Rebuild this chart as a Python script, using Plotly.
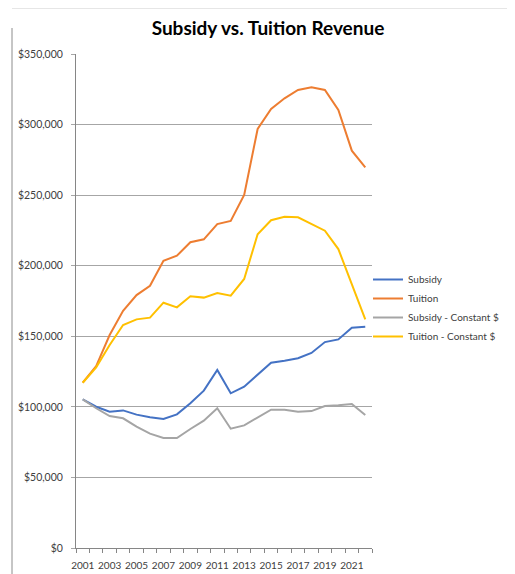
import plotly.graph_objects as go

years = list(range(2001, 2023))
subsidy = [105300, 100100, 96600, 97500, 94500, 92600, 91400, 94700, 102500, 111500,
           126100, 109600, 114300, 123000, 131300, 132700, 134400, 138200, 145900, 147800,
           156100, 156800]
tuition = [117100, 128900, 150900, 168100, 179200, 185800, 203500, 207100, 216600, 218700,
           229500, 231700, 250100, 296900, 311000, 318600, 324500, 326400, 324500, 310300,
           281500, 269700]
subsidy_const = [105300, 99000, 93500, 91900, 86000, 81000, 77900, 77900, 84300, 90200,
                 99000, 84500, 86900, 92600, 98000, 98000, 96600, 97000, 100600, 101100,
                 102000, 94200]
tuition_const = [117100, 128000, 143800, 158000, 162000, 163200, 173800, 170500, 178300, 177400,
                 180700, 178800, 190600, 222300, 232200, 234700, 234300, 229600, 224800, 211800,
                 186300, 162000]
y_ticks = [0, 50000, 100000, 150000, 200000, 250000, 300000, 350000]
x_tick_years = list(range(2001, 2022, 2))

series = [
    ("Subsidy", subsidy, "#4472C4"),
    ("Tuition", tuition, "#ED7D31"),
    ("Subsidy - Constant $", subsidy_const, "#A5A5A5"),
    ("Tuition - Constant $", tuition_const, "#FFC000"),
]

FONT = "Lato, 'Liberation Sans', sans-serif"
# page body has an 8px margin; figure coords = screen coords - 8
OFF = 8
W, H = 515 - OFF, 574 - OFF
L, T = 76 - OFF, 54 - OFF
PR, PB = 372 - OFF, 548 - OFF
R, B = W - PR, H - PB
PW, PH = PR - L, PB - T

fig = go.Figure()
for name, vals, color in series:
    fig.add_trace(go.Scatter(x=years, y=vals, name=name, mode="lines",
                             line=dict(color=color, width=2)))

fig.update_layout(
    width=W, height=H,
    margin=dict(l=L, r=R, t=T, b=B, autoexpand=False),
    paper_bgcolor="white", plot_bgcolor="white",
    font=dict(family=FONT, size=11, color="#404040"),
    title=dict(text="<b>Subsidy vs. Tuition Revenue</b>", x=(268 - OFF) / W, xanchor="center",
               y=1 - (28 - OFF) / H, yanchor="middle",
               font=dict(family=FONT, size=19, color="black")),
    legend=dict(x=(368 - OFF - L) / PW, xanchor="left", y=(PB - (308 - OFF)) / PH, yanchor="middle",
                font=dict(family=FONT, size=10, color="#404040"),
                bgcolor="rgba(0,0,0,0)", itemwidth=30, tracegroupgap=5),
    showlegend=True,
)

fig.update_xaxes(
    range=[2000.5, 2022.5], tickmode="array", tickvals=x_tick_years,
    ticktext=[str(y) for y in x_tick_years], tickangle=0, automargin=False,
    ticks="", showgrid=False, showline=True, linecolor="#868686", linewidth=1,
    tickfont=dict(family=FONT, size=10, color="#404040"), ticklabelstandoff=8,
    minor=dict(ticks="outside", tick0=2000.5, dtick=1, ticklen=4,
               tickcolor="#868686", showgrid=False),
    zeroline=False,
)
fig.update_yaxes(
    range=[0, 350000], tickmode="array", tickvals=y_ticks,
    ticktext=["$" + format(v, ",") for v in y_ticks], automargin=False,
    ticks="outside", ticklen=4, tickcolor="#A6A6A6",
    showgrid=True, gridcolor="#A6A6A6", gridwidth=1,
    showline=True, linecolor="#868686", linewidth=1,
    tickfont=dict(family=FONT, size=10.5, color="#404040"),
    zeroline=False, ticklabelstandoff=6,
)

# chart border fragments (left and top)
fig.add_shape(type="line", xref="paper", yref="paper",
              x0=(12 - OFF - L) / PW, x1=(12 - OFF - L) / PW, y0=-B / PH, y1=(H - T) / PH,
              line=dict(color="#8c8c8c", width=1))
fig.add_shape(type="line", xref="paper", yref="paper",
              x0=(12 - OFF - L) / PW, x1=(W - L) / PW, y0=(H - B - 0.5) / PH, y1=(H - B - 0.5) / PH,
              line=dict(color="#E6E6E6", width=1))

fig.write_html("out.html")
